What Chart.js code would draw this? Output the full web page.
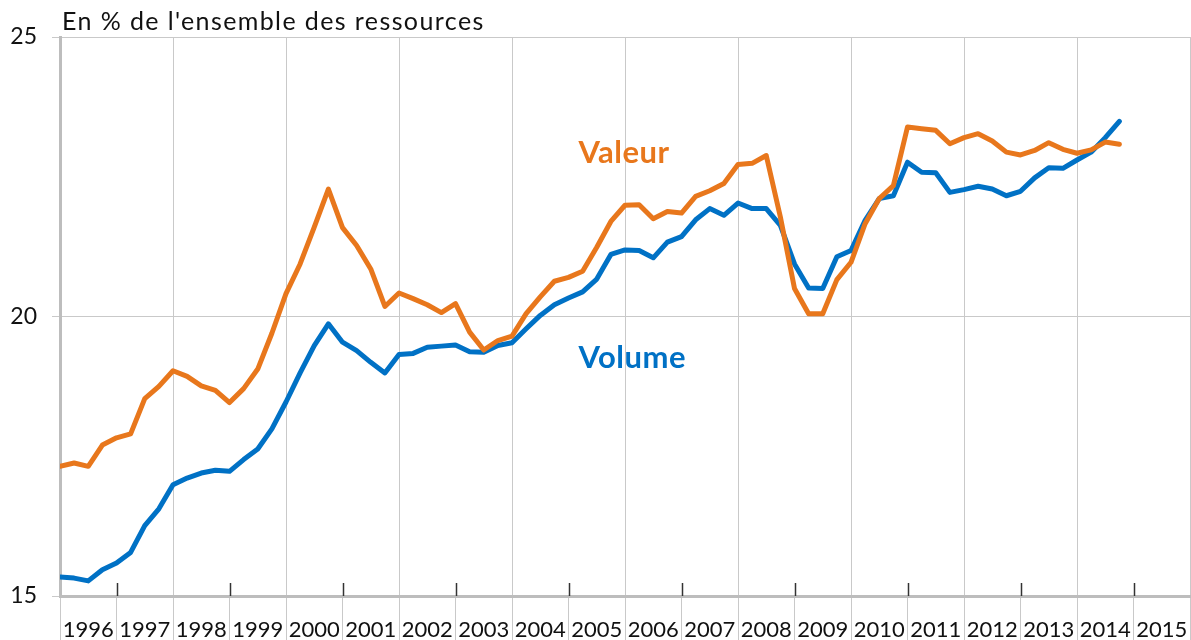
<!DOCTYPE html>
<html>
<head>
<meta charset="utf-8">
<script src="https://cdn.jsdelivr.net/npm/chart.js@4"></script>
<style>
  html, body { margin: 0; padding: 0; background: #fff; }
  canvas { display: block; }
</style>
</head>
<body>
<canvas id="chart" width="1191" height="640"></canvas>
<script>
// years shown under the axis (quarterly data from 1996Q1 to 2014Q4)
const years = ['1996','1997','1998','1999','2000','2001','2002','2003','2004','2005',
  '2006','2007','2008','2009','2010','2011','2012','2013','2014','2015'];

// En % de l'ensemble des ressources, one value per quarter
const valeur = [
  17.32, 17.38, 17.32, 17.70, 17.83, 17.90, 18.53, 18.75,
  19.03, 18.93, 18.76, 18.68, 18.46, 18.71, 19.06, 19.70,
  20.41, 20.94, 21.60, 22.28, 21.59, 21.27, 20.85, 20.18,
  20.42, 20.32, 20.21, 20.07, 20.23, 19.72, 19.40, 19.57,
  19.65, 20.05, 20.35, 20.63, 20.70, 20.81, 21.24, 21.70,
  21.99, 22.00, 21.75, 21.88, 21.85, 22.15, 22.25, 22.38,
  22.72, 22.74, 22.88, 21.78, 20.50, 20.05, 20.05, 20.66,
  20.97, 21.66, 22.11, 22.34, 23.39, 23.36, 23.33, 23.09,
  23.20, 23.27, 23.14, 22.94, 22.89, 22.97, 23.11, 22.99,
  22.92, 22.98, 23.12, 23.08
];
const volume = [
  15.34, 15.32, 15.27, 15.47, 15.59, 15.78, 16.26, 16.56,
  16.99, 17.11, 17.20, 17.25, 17.23, 17.44, 17.63, 17.99,
  18.47, 18.99, 19.48, 19.87, 19.54, 19.39, 19.18, 18.99,
  19.32, 19.34, 19.45, 19.47, 19.49, 19.37, 19.36, 19.48,
  19.53, 19.78, 20.02, 20.21, 20.33, 20.44, 20.67, 21.11,
  21.19, 21.18, 21.05, 21.33, 21.43, 21.73, 21.93, 21.81,
  22.03, 21.93, 21.93, 21.63, 20.94, 20.51, 20.50, 21.07,
  21.18, 21.72, 22.11, 22.16, 22.76, 22.58, 22.57, 22.22,
  22.27, 22.33, 22.28, 22.16, 22.24, 22.48, 22.66, 22.65,
  22.80, 22.94, 23.20, 23.49
];

const ORANGE = '#E8771C';
const BLUE = '#0071C5';
const GRID = '#c9c9c9';
const FONT = 'Lato';

// text drawn on top: title and the two series names
const extraText = {
  id: 'extraText',
  beforeDatasetsDraw(chart) {
    // little black ticks at odd years, inside the plot
    const ctx = chart.ctx, x = chart.scales.x, a = chart.chartArea;
    ctx.save();
    ctx.strokeStyle = '#333';
    ctx.lineWidth = 1.5;
    for (let q = 4; q < 80; q += 8) {
      const px = Math.round(x.getPixelForValue(q)) + 0.5;
      ctx.beginPath();
      ctx.moveTo(px, a.bottom - 13);
      ctx.lineTo(px, a.bottom);
      ctx.stroke();
    }
    ctx.restore();
  },
  afterDatasetsDraw(chart) {
    const ctx = chart.ctx, x = chart.scales.x, y = chart.scales.y;
    ctx.save();
    ctx.textBaseline = 'alphabetic';
    ctx.textAlign = 'left';
    ctx.fillStyle = '#111';
    ctx.font = '25px ' + FONT;
    ctx.letterSpacing = '1.4px';
    ctx.fillText("En % de l'ensemble des ressources", 62, 30);
    ctx.letterSpacing = '0.5px';
    ctx.font = 'bold 31px ' + FONT;
    ctx.fillStyle = ORANGE;
    ctx.fillText('Valeur', x.getPixelForValue(36.7), y.getPixelForValue(22.74));
    ctx.fillStyle = BLUE;
    ctx.fillText('Volume', x.getPixelForValue(36.7), y.getPixelForValue(19.07));
    ctx.restore();
  }
};

new Chart(document.getElementById('chart'), {
  type: 'line',
  data: {
    datasets: [{
      label: 'Valeur',
      data: valeur.map((v, i) => ({ x: i, y: v })),
      borderColor: ORANGE,
      borderWidth: 5,
      pointRadius: 0,
      tension: 0,
      borderJoinStyle: 'round',
      borderCapStyle: 'round'
    }, {
      label: 'Volume',
      data: volume.map((v, i) => ({ x: i, y: v })),
      borderColor: BLUE,
      borderWidth: 5,
      pointRadius: 0,
      tension: 0,
      borderJoinStyle: 'round',
      borderCapStyle: 'round'
    }]
  },
  options: {
    responsive: false,
    animation: false,
    devicePixelRatio: 1,
    layout: { padding: { top: 37, right: 1, left: 0, bottom: 0 } },
    plugins: {
      legend: { display: false },
      tooltip: { enabled: false }
    },
    scales: {
      x: {
        type: 'linear',
        min: 0,
        max: 80,
        position: 'bottom',
        ticks: { display: false, stepSize: 4 },
        grid: {
          drawTicks: false,
          color: c => (c.tick && c.tick.value % 8 === 0) ? GRID : 'rgba(0,0,0,0)',
          lineWidth: 1
        },
        border: { display: true, color: '#bdbdbd', width: 3 },
        afterFit(s) { s.height = 0; }
      },
      years: {
        type: 'category',
        labels: years,
        position: 'bottom',
        offset: true,
        grid: {
          offset: true,
          drawOnChartArea: false,
          tickLength: 44,
          color: GRID,
          lineWidth: 1
        },
        border: { display: false },
        ticks: {
          padding: -23,
          color: '#111',
          font: { family: FONT, size: 22 },
          maxRotation: 0,
          autoSkip: false
        },
        afterFit(s) { s.height = 44; }
      },
      y: {
        min: 15,
        max: 25,
        ticks: {
          stepSize: 5,
          padding: 15,
          color: '#111',
          font: { family: FONT, size: 23 }
        },
        grid: { color: GRID, tickLength: 8, lineWidth: 1 },
        border: { display: true, color: '#bdbdbd', width: 3 },
        afterFit(s) { s.width = 60; }
      }
    }
  },
  plugins: [extraText]
});
</script>
</body>
</html>
